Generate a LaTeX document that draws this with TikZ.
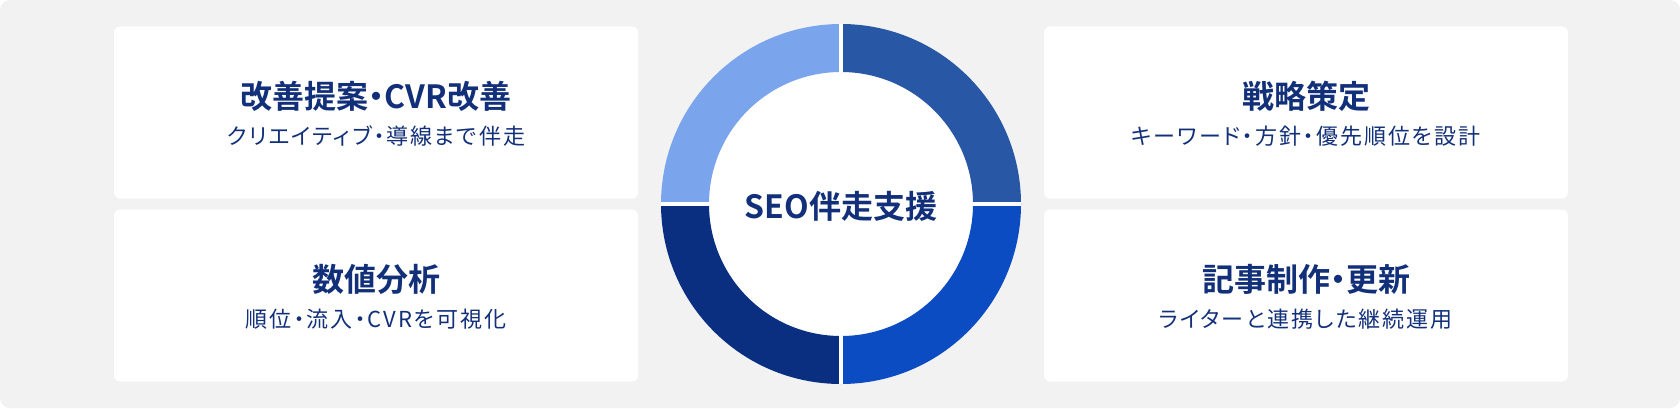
\documentclass[tikz,border=0pt]{standalone}
\usepackage{fontspec}
\usetikzlibrary{calc}
\newfontfamily\jpfont[RawFeature=+palt, LetterSpace=9]{Noto Sans CJK JP}
\newfontfamily\jptitle[RawFeature=+palt]{Noto Sans CJK JP Bold}
\definecolor{bggray}{HTML}{F2F2F2}
\definecolor{segTL}{HTML}{7AA5EC}
\definecolor{segTR}{HTML}{2857A6}
\definecolor{segBR}{HTML}{0B4CC2}
\definecolor{segBL}{HTML}{0B2F80}
\definecolor{navy}{HTML}{12307A}
\tikzset{
  card/.style={fill=white, rounded corners=6pt, inner sep=0pt,
    minimum width=524pt, minimum height=172pt},
  cardtitle/.style={anchor=base, inner sep=0pt, text=navy,
    font=\jptitle\fontsize{32}{36}\selectfont},
  cardsub/.style={anchor=base, inner sep=0pt, text=navy,
    font=\jpfont\fontsize{22}{26}\selectfont},
  ringlabel/.style={anchor=base, inner sep=0pt, text=navy,
    font=\jptitle\fontsize{32}{36}\selectfont},
}
\begin{document}
\begin{tikzpicture}[x=1pt,y=1pt]
\useasboundingbox (0,0) rectangle (1680,408);
\fill[white] (0,0) rectangle (1680,408);
\fill[bggray, rounded corners=10pt] (0,0) rectangle (1680,408);
% cards
\node[card] (lt) at (376,295.5) {};
\node[card] (lb) at (376,112.5) {};
\node[card] (rt) at (1306,295.5) {};
\node[card] (rb) at (1306,112.5) {};
% ring
\node[circle, minimum size=360pt, inner sep=0pt, fill=white] (ring) at (841,204) {};
\begin{scope}[shift={(ring.center)}]
  \fill[segTR] (0:180pt) arc[start angle=0, end angle=90, radius=180pt] -- (90:132pt) arc[start angle=90, end angle=0, radius=132pt] -- cycle;
  \fill[segTL] (90:180pt) arc[start angle=90, end angle=180, radius=180pt] -- (180:132pt) arc[start angle=180, end angle=90, radius=132pt] -- cycle;
  \fill[segBL] (180:180pt) arc[start angle=180, end angle=270, radius=180pt] -- (270:132pt) arc[start angle=270, end angle=180, radius=132pt] -- cycle;
  \fill[segBR] (270:180pt) arc[start angle=270, end angle=360, radius=180pt] -- (0:132pt) arc[start angle=360, end angle=270, radius=132pt] -- cycle;
\end{scope}
\draw[white, line width=4.6pt] (ring.west) -- (ring.east);
\draw[white, line width=4.6pt] (ring.south) -- (ring.north);
\node[ringlabel] (ringtext) at ($(ring.center)+(0,-14)$) {SEO伴走支援};
% texts
\node[cardtitle] (ltT) at ($(lt.center)+(0,4.4)$) {改善提案・CVR改善};
\node[cardsub]   (ltS) at ($(lt.center)+(0,-32.4)$) {クリエイティブ・導線まで伴走};
\node[cardtitle] (lbT) at ($(lb.center)+(0,4.4)$) {数値分析};
\node[cardsub]   (lbS) at ($(lb.center)+(0,-32.4)$) {順位・流入・CVRを可視化};
\node[cardtitle] (rtT) at ($(rt.center)+(0,4.4)$) {戦略策定};
\node[cardsub]   (rtS) at ($(rt.center)+(0,-32.4)$) {キーワード・方針・優先順位を設計};
\node[cardtitle] (rbT) at ($(rb.center)+(0,4.4)$) {記事制作・更新};
\node[cardsub]   (rbS) at ($(rb.center)+(0,-32.4)$) {ライターと連携した継続運用};
\end{tikzpicture}
\end{document}
